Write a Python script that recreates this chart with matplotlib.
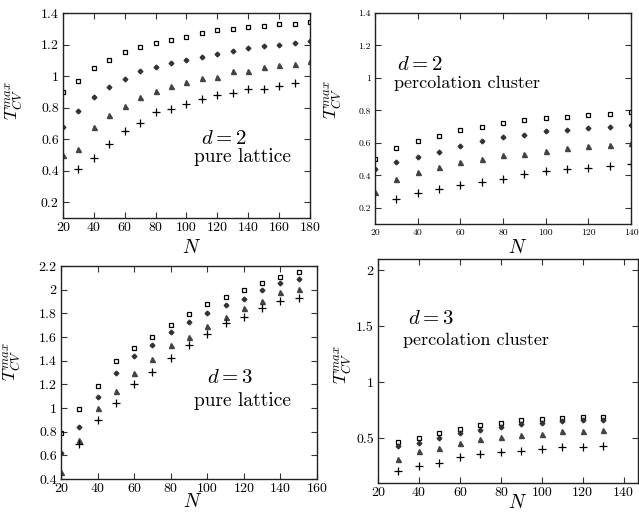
import matplotlib
matplotlib.use("Agg")
import matplotlib.pyplot as plt
from matplotlib.ticker import FuncFormatter

plt.rcParams["font.family"] = ["cmr10", "DejaVu Serif"]
plt.rcParams["mathtext.fontset"] = "cm"
plt.rcParams["axes.unicode_minus"] = False

# ---- d=2 pure lattice ----
N_2p = [20, 30, 40, 50, 60, 70, 80, 90, 100, 110, 120, 130, 140, 150, 160, 170, 180]
sq_2p = [0.90, 0.97, 1.05, 1.10, 1.15, 1.185, 1.21, 1.23, 1.25, 1.27, 1.29, 1.30, 1.31, 1.32, 1.33, 1.33, 1.34]
di_2p = [0.68, 0.78, 0.87, 0.93, 0.98, 1.03, 1.06, 1.08, 1.10, 1.12, 1.14, 1.16, 1.18, 1.19, 1.20, 1.21, 1.22]
tr_2p = [0.50, 0.54, 0.675, 0.75, 0.81, 0.865, 0.905, 0.935, 0.965, 0.985, 0.995, 1.03, 1.035, 1.06, 1.07, 1.075, 1.095]
N_2p_plus = [30, 40, 50, 60, 70, 80, 90, 100, 110, 120, 130, 140, 150, 160, 170]
pl_2p = [0.41, 0.48, 0.57, 0.65, 0.70, 0.77, 0.79, 0.82, 0.855, 0.88, 0.89, 0.915, 0.92, 0.94, 0.955]

# ---- d=2 percolation cluster ----
N_2c = [20, 30, 40, 50, 60, 70, 80, 90, 100, 110, 120, 130, 140]
sq_2c = [0.50, 0.567, 0.61, 0.643, 0.678, 0.70, 0.72, 0.74, 0.75, 0.762, 0.772, 0.78, 0.787]
di_2c = [0.437, 0.48, 0.51, 0.546, 0.583, 0.61, 0.636, 0.65, 0.67, 0.68, 0.694, 0.70, 0.708]
tr_2c = [0.295, 0.377, 0.42, 0.449, 0.48, 0.502, 0.523, 0.533, 0.552, 0.57, 0.58, 0.589, 0.597]
N_2c_plus = [30, 40, 50, 60, 70, 80, 90, 100, 110, 120, 130, 140]
pl_2c = [0.256, 0.289, 0.313, 0.34, 0.356, 0.38, 0.408, 0.426, 0.437, 0.445, 0.457, 0.47]

# ---- d=3 pure lattice ----
N_3p = [20, 30, 40, 50, 60, 70, 80, 90, 100, 110, 120, 130, 140, 150]
sq_3p = [0.786, 0.989, 1.188, 1.40, 1.504, 1.60, 1.70, 1.794, 1.879, 1.938, 1.994, 2.056, 2.107, 2.147]
di_3p = [0.617, 0.836, 1.09, 1.298, 1.439, 1.53, 1.642, 1.729, 1.805, 1.87, 1.921, 1.994, 2.059, 2.093]
tr_3p = [0.461, 0.729, 1.002, 1.143, 1.293, 1.414, 1.532, 1.603, 1.695, 1.771, 1.848, 1.904, 1.978, 2.006]
N_3p_plus = [30, 40, 50, 60, 70, 80, 90, 100, 110, 120, 130, 140, 150]
pl_3p = [0.695, 0.896, 1.04, 1.20, 1.307, 1.42, 1.53, 1.625, 1.716, 1.771, 1.848, 1.904, 1.932]

# ---- d=3 percolation cluster ----
N_3c = [30, 40, 50, 60, 70, 80, 90, 100, 110, 120, 130]
sq_3c = [0.464, 0.50, 0.544, 0.583, 0.618, 0.64, 0.66, 0.672, 0.684, 0.687, 0.69]
di_3c = [0.434, 0.46, 0.506, 0.544, 0.574, 0.60, 0.627, 0.64, 0.657, 0.663, 0.663]
tr_3c = [0.315, 0.384, 0.41, 0.46, 0.494, 0.51, 0.53, 0.538, 0.56, 0.565, 0.574]
pl_3c = [0.21, 0.256, 0.28, 0.333, 0.36, 0.375, 0.384, 0.40, 0.417, 0.42, 0.426]

W, H = 639, 514
fig = plt.figure(figsize=(W / 100, H / 100), dpi=100)


def px_axes(left, top, right, bottom):
    return fig.add_axes([left / W, 1 - bottom / H, (right - left) / W, (bottom - top) / H])


fmt = FuncFormatter(lambda v, p: f"{v:g}")


def series(ax, N, sq, di, tr, Np, pl):
    ax.plot(N, sq, ls="none", marker="s", ms=3.3, mfc="none", mec="black", mew=0.9)
    ax.plot(N, di, ls="none", marker="D", ms=2.4, mfc="#333333", mec="#333333")
    ax.plot(N, tr, ls="none", marker="^", ms=3.6, mfc="#444444", mec="#444444")
    ax.plot(Np, pl, ls="none", marker="+", ms=5.5, mec="black", mew=0.9)


def style(ax, xticks, yticks, xlim, ylim, fs, xl, yl):
    ax.set_xlim(*xlim)
    ax.set_ylim(*ylim)
    ax.set_xticks(xticks)
    ax.set_yticks(yticks)
    ax.xaxis.set_major_formatter(fmt)
    ax.yaxis.set_major_formatter(fmt)
    ax.tick_params(direction="in", top=True, right=True, length=4, width=0.8,
                   labelsize=fs, pad=3, color="#333333")
    for s in ax.spines.values():
        s.set_color("#222222")
        s.set_linewidth(1.0)
    ax.set_xlabel(r"$N$", fontsize=14, va="center")
    ax.set_ylabel(r"$T_{CV}^{max}$", fontsize=13, va="center")
    ax.xaxis.set_label_coords(*xl)
    ax.yaxis.set_label_coords(*yl)


# top-left
ax1 = px_axes(63, 13, 310, 218)
series(ax1, N_2p, sq_2p, di_2p, tr_2p, N_2p_plus, pl_2p)
style(ax1, range(20, 181, 20), [0.2, 0.4, 0.6, 0.8, 1.0, 1.2, 1.4], (20, 180), (0.1, 1.4), 10,
      (0.52, -0.146), (-0.2, 0.575))
ax1.text(0.65, 0.385, r"$d=2$", transform=ax1.transAxes, ha="center", va="center", fontsize=15)
ax1.text(0.725, 0.30, "pure lattice", transform=ax1.transAxes, ha="center", va="center", fontsize=14)

# top-right
ax2 = px_axes(375, 13, 631, 224)
series(ax2, N_2c, sq_2c, di_2c, tr_2c, N_2c_plus, pl_2c)
style(ax2, range(20, 141, 20), [0.2, 0.4, 0.6, 0.8, 1.0, 1.2, 1.4], (20, 140), (0.1, 1.4), 7,
      (0.555, -0.114), (-0.165, 0.59))
ax2.text(0.086, 0.754, r"$d=2$", transform=ax2.transAxes, ha="left", va="center", fontsize=15)
ax2.text(0.074, 0.668, "percolation cluster", transform=ax2.transAxes, ha="left", va="center", fontsize=13)

# bottom-left
ax3 = px_axes(61, 266, 317, 479)
series(ax3, N_3p, sq_3p, di_3p, tr_3p, N_3p_plus, pl_3p)
style(ax3, range(20, 161, 20), [0.4, 0.6, 0.8, 1.0, 1.2, 1.4, 1.6, 1.8, 2.0, 2.2], (20, 160), (0.4, 2.2), 10,
      (0.515, -0.11), (-0.19, 0.55))
ax3.text(0.66, 0.474, r"$d=3$", transform=ax3.transAxes, ha="center", va="center", fontsize=15)
ax3.text(0.707, 0.367, "pure lattice", transform=ax3.transAxes, ha="center", va="center", fontsize=14)

# bottom-right
ax4 = px_axes(378, 259, 638, 483)
series(ax4, N_3c, sq_3c, di_3c, tr_3c, N_3c, pl_3c)
style(ax4, range(20, 141, 20), [0.5, 1.0, 1.5, 2.0], (20, 147), (0.1, 2.1), 10,
      (0.535, -0.088), (-0.135, 0.53))
ax4.text(0.115, 0.73, r"$d=3$", transform=ax4.transAxes, ha="left", va="center", fontsize=15)
ax4.text(0.096, 0.638, "percolation cluster", transform=ax4.transAxes, ha="left", va="center", fontsize=13)

fig.savefig("out.png", dpi=100)
